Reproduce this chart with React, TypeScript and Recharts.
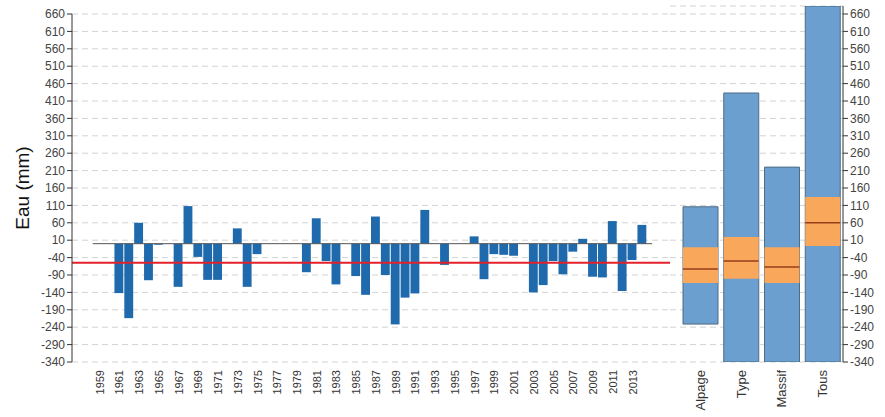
import React from 'react';
import {
  ComposedChart,
  Bar,
  Scatter,
  XAxis,
  YAxis,
  CartesianGrid,
  ReferenceLine
} from 'recharts';

// yearly anomalies (mm), null = no data
const years = [
  1961, 1962, 1963, 1964, 1965, 1966, 1967, 1968, 1969, 1970,
  1971, 1972, 1973, 1974, 1975, 1976, 1977, 1978, 1979, 1980,
  1981, 1982, 1983, 1984, 1985, 1986, 1987, 1988, 1989, 1990,
  1991, 1992, 1993, 1994, 1995, 1996, 1997, 1998, 1999, 2000,
  2001, 2002, 2003, 2004, 2005, 2006, 2007, 2008, 2009, 2010,
  2011, 2012, 2013, 2014
];
const anomalies = [
  -142, -214, 60, -105, -3, null, -124, 108, -38, -104,
  -104, null, 44, -124, -30, null, null, null, null, -82,
  73, -50, -117, null, -93, -147, 78, -90, -232, -155,
  -143, 97, null, -61, null, null, 21, -102, -30, -32,
  -35, null, -140, -119, -50, -88, -23, 14, -95, -97,
  65, -136, -47, 54
];
const meanLevel = -55;

const yearTicks = [
  1959, 1961, 1963, 1965, 1967, 1969, 1971, 1973, 1975, 1977,
  1979, 1981, 1983, 1985, 1987, 1989, 1991, 1993, 1995, 1997,
  1999, 2001, 2003, 2005, 2007, 2009, 2011, 2013
];
const valueTicks = [
  -340, -290, -240, -190, -140, -90, -40, 10, 60, 110, 160,
  210, 260, 310, 360, 410, 460, 510, 560, 610, 660
];

// summary boxes on the right
const groups = ['Alpage', 'Type', 'Massif', 'Tous'];
const groupMin = [-231, -340, -340, -340];
const groupMax = [106, 433, 220, 683];
const groupQ1 = [-113, -101, -113, -7];
const groupQ3 = [-10, 19, -10, 134];
const groupMedian = [-73, -50, -67, 60];

const yearData = years.map((y, i) => ({ year: y, value: anomalies[i] }));
const boxData = groups.map((g, i) => ({
  name: g,
  range: [groupMin[i], groupMax[i]],
  iqr: [groupQ1[i], groupQ3[i]],
  median: groupMedian[i]
}));

const FONT = 'Liberation Sans, Arial, sans-serif';
const TICK = { fontSize: 12, fill: '#444', fontFamily: FONT };

const RotatedTick = ({ x, y, payload, fontSize }: any) => (
  <text
    x={x}
    y={y}
    transform={`rotate(-90 ${x} ${y})`}
    textAnchor="end"
    dominantBaseline="central"
    fontSize={fontSize}
    fontFamily={FONT}
    fill="#333"
  >
    {payload.value}
  </text>
);

const MedianMark = ({ cx, cy }: any) => (
  <line x1={cx - 17.5} x2={cx + 17.5} y1={cy} y2={cy} stroke="#9a3d1c" strokeWidth={1.5} />
);

const App: React.FC = () => {
  return (
    <div style={{ position: 'absolute', left: 0, top: 0, width: 885, height: 417, background: '#fff' }}>
      <div style={{ position: 'absolute', left: 0, top: 0 }}>
        <ComposedChart
          width={670}
          height={417}
          data={yearData}
          margin={{ top: 14, right: 0, bottom: 0, left: 0 }}
        >
          <CartesianGrid vertical={false} stroke="#d3d3d3" strokeDasharray="6 4" />
          <XAxis
            dataKey="year"
            type="number"
            domain={[1956.2, 2016.8]}
            ticks={yearTicks}
            interval={0}
            height={55}
            axisLine={false}
            tickLine={false}
            tick={<RotatedTick fontSize={11} />}
          />
          <YAxis
            domain={[-340, 660]}
            ticks={valueTicks}
            interval={0}
            width={72}
            tick={TICK}
            tickSize={5}
            stroke="#333"
            label={{
              value: 'Eau (mm)',
              angle: -90,
              position: 'insideLeft',
              offset: 22,
              style: { textAnchor: 'middle', fontSize: 19, fill: '#111', fontFamily: FONT }
            }}
          />
          <ReferenceLine
            segment={[{ x: 1958.3, y: 0 }, { x: 2015, y: 0 }]}
            stroke="#555"
            strokeWidth={1}
          />
          <Bar dataKey="value" fill="#1f6aad" barSize={10} isAnimationActive={false} />
          <ReferenceLine y={meanLevel} stroke="#e4202a" strokeWidth={2} />
        </ComposedChart>
      </div>
      <div style={{ position: 'absolute', left: 670, top: 0 }}>
        <ComposedChart
          width={215}
          height={417}
          data={boxData}
          barGap={-35}
          margin={{ top: 6, right: 0, bottom: 0, left: 0 }}
        >
          <CartesianGrid vertical={false} stroke="#d3d3d3" strokeDasharray="6 4" />
          <XAxis
            dataKey="name"
            height={55}
            padding={{ left: 10, right: 0 }}
            axisLine={false}
            tickLine={false}
            interval={0}
            tick={<RotatedTick fontSize={13} />}
          />
          <YAxis
            orientation="right"
            domain={[-340, 683]}
            allowDataOverflow
            ticks={valueTicks}
            interval={0}
            width={42}
            tick={TICK}
            tickSize={5}
            stroke="#333"
          />
          <Bar
            dataKey="range"
            fill="#6a9fd0"
            stroke="#4f6b86"
            strokeWidth={1}
            barSize={35}
            isAnimationActive={false}
          />
          <Bar
            dataKey="iqr"
            fill="#f9a75a"
            barSize={35}
            isAnimationActive={false}
          />
          <Scatter
            dataKey="median"
            shape={<MedianMark />}
            isAnimationActive={false}
          />
        </ComposedChart>
      </div>
    </div>
  );
};

export default App;
